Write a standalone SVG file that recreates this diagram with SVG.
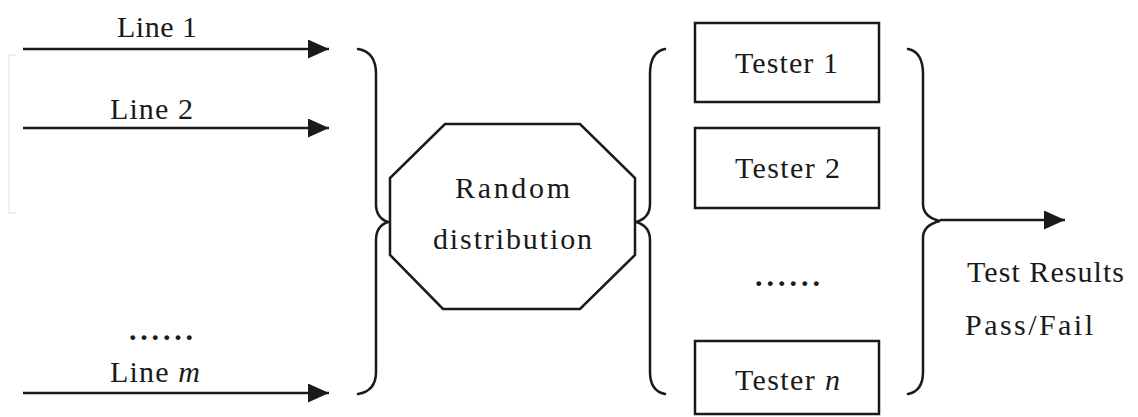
<svg xmlns="http://www.w3.org/2000/svg" width="1138" height="417" viewBox="0 0 1138 417">
<style>
.ln{fill:none;stroke:#1a1a1a;stroke-width:2.5}
.br{fill:none;stroke:#1a1a1a;stroke-width:2.5;stroke-linecap:round}
.bx{fill:#fff;stroke:#1a1a1a;stroke-width:2.5}
.t{font-family:"Liberation Serif","Times New Roman",serif;font-size:30px;fill:#1a1a1a}
.d{font-weight:bold}
.i{font-style:italic}
</style>
<defs>
<marker id="ah" markerWidth="21" markerHeight="19" refX="21" refY="9.5" orient="auto" markerUnits="userSpaceOnUse">
<path d="M0,0 L21,9.5 L0,19 Z" fill="#1a1a1a"/>
</marker>
</defs>
<rect width="1138" height="417" fill="#fff"/>
<path d="M16,55 L9,55 L9,213 L16,213" fill="none" stroke="#ececec" stroke-width="1.5"/>
<g id="connectors">
<line class="ln" x1="23" y1="49" x2="329" y2="49" marker-end="url(#ah)"/>
<line class="ln" x1="23" y1="128" x2="329" y2="128" marker-end="url(#ah)"/>
<line class="ln" x1="23" y1="393" x2="329" y2="393" marker-end="url(#ah)"/>
<path class="br" d="M358,49 Q376,52 376,74 L376,204 Q376,218 388,222 Q376,226 376,240 L376,372 Q376,391 358,394"/>
<path class="br" d="M665,49 Q650,52 650,74 L650,204 Q650,218 636,222 Q650,226 650,240 L650,372 Q650,391 665,394"/>
<path class="br" d="M908,49 Q923,52 923,74 L923,204 Q923,217 940,221 Q923,225 923,238 L923,372 Q923,391 908,394"/>
<line class="ln" x1="940" y1="220" x2="1065" y2="220" marker-end="url(#ah)"/>
</g>
<g id="line1"><text class="t" x="117" y="37" textLength="80">Line 1</text></g>
<g id="line2"><text class="t" x="110" y="119" textLength="83">Line 2</text></g>
<g id="linedots"><text class="t d" x="129" y="340" textLength="64">......</text></g>
<g id="linem"><text class="t" x="110" y="382" textLength="90">Line <tspan class="i">m</tspan></text></g>
<g id="random">
<polygon class="bx" points="445,124 580,124 635,178 635,255 580,309 443,309 390,255 390,178"/>
<text class="t" x="455" y="198" textLength="115">Random</text>
<text class="t" x="433" y="249" textLength="159">distribution</text>
</g>
<g id="tester1">
<rect class="bx" x="695" y="23" width="184" height="79"/>
<text class="t" x="735" y="73" textLength="103">Tester 1</text>
</g>
<g id="tester2">
<rect class="bx" x="695" y="128" width="184" height="80"/>
<text class="t" x="735" y="178" textLength="105">Tester 2</text>
</g>
<g id="testerdots"><text class="t d" x="755" y="286" textLength="65">......</text></g>
<g id="testern">
<rect class="bx" x="695" y="341" width="184" height="73"/>
<text class="t" x="735" y="390" textLength="105">Tester <tspan class="i">n</tspan></text>
</g>
<g id="results">
<text class="t" x="967" y="282" textLength="157">Test Results</text>
<text class="t" x="965" y="335" textLength="128">Pass/Fail</text>
</g>
</svg>
